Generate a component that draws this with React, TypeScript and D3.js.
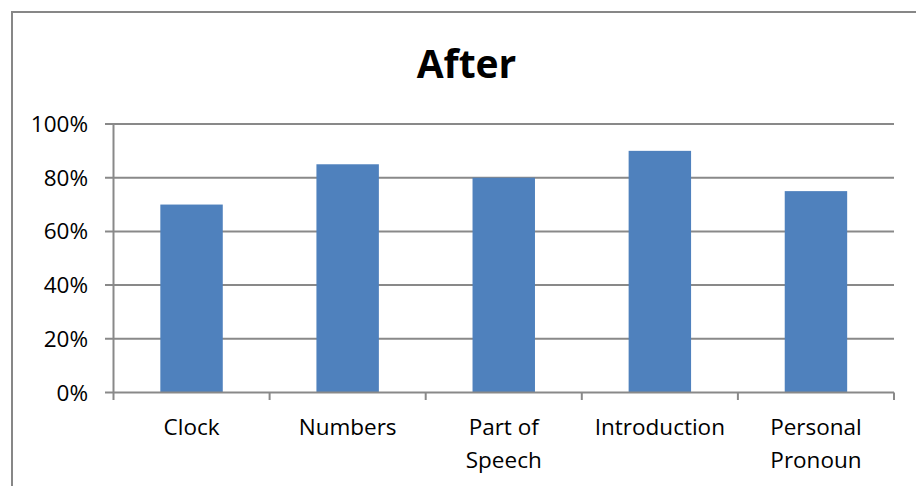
import React, { useEffect, useRef } from "react";
import * as d3 from "d3";

const categories: string[][] = [
  ["Clock"],
  ["Numbers"],
  ["Part of", "Speech"],
  ["Introduction"],
  ["Personal", "Pronoun"],
];
const values: number[] = [0.7, 0.85, 0.8, 0.9, 0.75];
const yTicks: number[] = [0, 0.2, 0.4, 0.6, 0.8, 1.0];
const title = "After";

const W = 916;
const H = 486;
const FONT = "'Open Sans', sans-serif";

export default function App() {
  const ref = useRef<SVGSVGElement>(null);

  useEffect(() => {
    const svg = d3.select(ref.current);
    svg.selectAll("*").remove();

    const left = 113.5, right = 894, top = 124, bottom = 392.5;
    const x = d3.scaleBand<number>().domain(d3.range(categories.length)).range([left, right]).paddingInner(0.6).paddingOuter(0.3);
    const xOuter = d3.scaleBand<number>().domain(d3.range(categories.length)).range([left, right]);
    const y = d3.scaleLinear().domain([0, 1]).range([bottom, top]);

    svg.append("rect").attr("width", W).attr("height", H).attr("fill", "#fff");

    // chart border (extends beyond view on right/bottom)
    svg.append("rect").attr("x", 12).attr("y", 12).attr("width", 909).attr("height", 500)
      .attr("fill", "none").attr("stroke", "#878787").attr("stroke-width", 2);

    // title
    svg.append("text").attr("x", 466.5).attr("y", 77.5).attr("text-anchor", "middle")
      .attr("font-family", FONT).attr("font-weight", "bold").attr("font-size", 39)
      .attr("fill", "#000").text(title);

    // gridlines
    svg.append("g").selectAll("line").data(yTicks.filter(t => t > 0)).join("line")
      .attr("x1", 105).attr("x2", right).attr("y1", d => y(d)).attr("y2", d => y(d))
      .attr("stroke", "#898989").attr("stroke-width", 2);

    // bars
    svg.append("g").selectAll("rect").data(values).join("rect")
      .attr("x", (_, i) => x(i)!).attr("width", x.bandwidth())
      .attr("y", d => y(d)).attr("height", d => y(0) - y(d))
      .attr("fill", "#4F81BD");

    // y axis line
    svg.append("line").attr("x1", left).attr("x2", left).attr("y1", top).attr("y2", bottom)
      .attr("stroke", "#898989").attr("stroke-width", 2);
    // x axis line
    svg.append("line").attr("x1", 105).attr("x2", right).attr("y1", bottom).attr("y2", bottom)
      .attr("stroke", "#898989").attr("stroke-width", 2);

    // x ticks
    const tickXs = d3.range(categories.length + 1).map(i => i < categories.length ? xOuter(i)! : right);
    svg.append("g").selectAll("line").data(tickXs).join("line")
      .attr("x1", d => d).attr("x2", d => d).attr("y1", bottom).attr("y2", 400)
      .attr("stroke", "#898989").attr("stroke-width", 2);

    // y labels
    svg.append("g").selectAll("text").data(yTicks).join("text")
      .attr("x", 88).attr("y", d => y(d) + 8).attr("text-anchor", "end")
      .attr("font-family", FONT).attr("font-size", 22.5).attr("fill", "#000")
      .text(d => d3.format(".0%")(d));

    // x labels
    const g = svg.append("g").selectAll("text").data(categories).join("text")
      .attr("text-anchor", "middle").attr("font-family", FONT).attr("font-size", 22.5).attr("fill", "#000");
    g.each(function (lines, i) {
      const t = d3.select(this);
      lines.forEach((ln, j) => {
        t.append("tspan").attr("x", xOuter(i)! + xOuter.bandwidth() / 2).attr("y", 435 + j * 33).text(ln);
      });
    });
  }, []);

  return (
    <svg ref={ref} width={W} height={H} style={{ position: "fixed", left: 0, top: 0 }} />
  );
}
